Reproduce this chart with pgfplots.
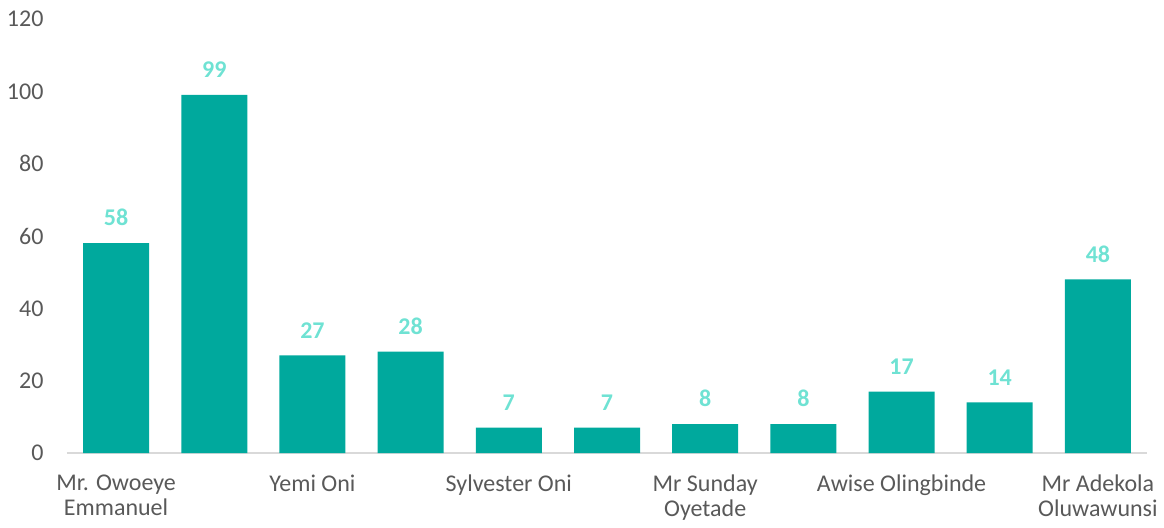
\documentclass[border=0pt]{standalone}
\usepackage{pgfplots}
\pgfplotsset{compat=1.18}
\usepackage{fontspec}
\setmainfont{Carlito}
\definecolor{barteal}{HTML}{00A99D}
\definecolor{labteal}{HTML}{6FE2D3}
\definecolor{ticktxt}{HTML}{595959}
\definecolor{baseline}{HTML}{D9D9D9}

\begin{document}
\begin{tikzpicture}
\begin{axis}[
    scale only axis,
    width=1080bp, height=434bp,
    xmin=-0.5, xmax=10.5,
    ymin=0, ymax=120,
    ytick={0,20,40,60,80,100,120},
    xtick={0,2,4,6,8,10},
    xticklabels={{Mr. Owoeye\\Emmanuel},{Yemi Oni},{Sylvester Oni},{Mr Sunday\\Oyetade},{Awise Olingbinde},{Mr Adekola\\Oluwawunsi}},
    axis x line*=bottom,
    axis y line*=left,
    x axis line style={draw=baseline, line width=1.5bp, -},
    y axis line style={draw=none},
    major tick length=0pt,
    /pgf/number format/assume math mode=true,
    tick label style={font=\fontsize{24bp}{25.5bp}\selectfont, text=ticktxt},
    xticklabel style={align=center, anchor=north, yshift=-18bp},
    yticklabel style={anchor=east, xshift=-20bp},
    ybar,
    bar width=66bp,
    nodes near coords,
    every node near coord/.append style={font=\fontsize{24bp}{25bp}\selectfont\bfseries, text=labteal, anchor=south, inner sep=0pt, yshift=17bp},
    clip=false,
]
\addplot[fill=barteal, draw=none] coordinates {
(0,58)(1,99)(2,27)(3,28)(4,7)(5,7)(6,8)(7,8)(8,17)(9,14)(10,48)
};
\end{axis}
\path[use as bounding box] ([xshift=-67bp,yshift=-74bp]current axis.south west) rectangle ([xshift=17bp,yshift=19bp]current axis.north east);
\end{tikzpicture}
\end{document}
